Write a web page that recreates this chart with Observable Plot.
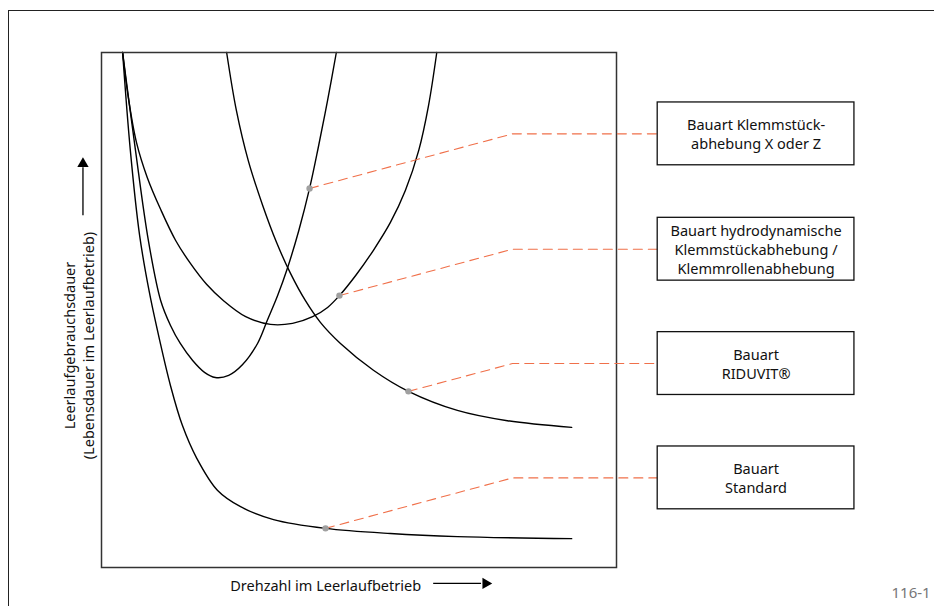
<!DOCTYPE html>
<html>
<head>
<meta charset="utf-8">
<script src="https://cdn.jsdelivr.net/npm/d3@7"></script>
<script src="https://cdn.jsdelivr.net/npm/@observablehq/plot@0.6"></script>
<style>
  body { margin: 0; background: #fff; }
  #wrap { position: relative; width: 934px; height: 606px; overflow: hidden; }
  #border { position: absolute; left: 8px; top: 10px; right: -4px; bottom: -4px;
            border-top: 1.5px solid #222; border-left: 1.5px solid #222; pointer-events: none; }
  svg { display: block; }
</style>
</head>
<body>
<div id="wrap"><div id="border"></div></div>
<script>
// ---- data (x = Drehzahl, y = Leerlaufgebrauchsdauer, arbitrary 0–100 units)
const seriesNames = ["Klemmstück", "Hydrodynamisch", "RIDUVIT", "Standard"];

const standardX = [4.1, 5.6, 7.4, 9.3, 11.3, 13.4, 15.7, 18.5, 22.5, 27.0, 33.4, 43.5, 56.1, 69.1, 91.3];
const standardY = [100, 81.0, 64.5, 53.4, 44.1, 35.3, 27.6, 21.2, 15.0, 11.8, 9.3, 7.6, 6.6, 6.0, 5.6];

const klemmX = [4.1, 6.6, 9.1, 11.5, 13.4, 15.3, 17.7, 20.0, 22.1, 24.7, 27.4, 30.3, 32.2, 34.2, 36.1, 38.3, 40.4, 42.1, 43.9, 45.6];
const klemmY = [100, 81.0, 63.5, 51.8, 47.0, 43.5, 40.2, 37.9, 36.9, 37.3, 39.4, 43.5, 48.0, 52.8, 58.1, 65.4, 73.6, 81.6, 90.7, 100];

const hydroX = [4.1, 5.2, 6.8, 8.9, 11.5, 14.4, 17.3, 20.4, 23.7, 28.0, 32.8, 37.1, 41.0, 43.9, 46.2, 49.5, 52.8, 56.1, 59.0, 61.6, 63.5, 65.1];
const hydroY = [100, 91.3, 82.5, 75.7, 69.5, 63.5, 59.0, 55.0, 51.8, 48.7, 47.2, 47.4, 48.7, 50.5, 52.8, 56.9, 61.6, 67.0, 73.2, 81.0, 89.7, 100];

const riduvitX = [24.3, 26.2, 28.5, 31.3, 34.0, 36.7, 39.6, 42.5, 46.4, 52.8, 59.6, 69.1, 78.8, 91.3];
const riduvitY = [100, 88.7, 79.0, 70.3, 63.1, 57.1, 51.8, 47.6, 43.5, 38.3, 34.2, 30.5, 28.5, 27.2];

// label boxes and leader lines
const labelTexts = [
  "Bauart Klemmstück-\nabhebung X oder Z",
  "Bauart hydrodynamische\nKlemmstückabhebung /\nKlemmrollenabhebung",
  "Bauart\nRIDUVIT®",
  "Bauart\nStandard"
];
const labelY  = [84.2, 61.8, 39.6, 17.4];   // centre of each box
const markerX = [40.4, 46.2, 59.6, 43.5];   // point on each curve
const markerY = [73.6, 52.8, 34.2, 7.6];
const kneeX = 79.8;
const boxLeft = 108.0, boxRight = 146.2, boxHeight = 12.2;

const xTitle = "Drehzahl im Leerlaufbetrieb";
const yTitle = "Leerlaufgebrauchsdauer\n(Lebensdauer im Leerlaufbetrieb)";
const figureId = "116-1";

// ---- build tables
const curveX = [klemmX, hydroX, riduvitX, standardX];
const curveY = [klemmY, hydroY, riduvitY, standardY];
const curves = curveX.flatMap((xs, i) => xs.map((x, j) => ({series: seriesNames[i], x, y: curveY[i][j]})));

const leaders = labelY.flatMap((ly, i) => [
  {i, x: markerX[i], y: markerY[i]},
  {i, x: kneeX, y: ly},
  {i, x: boxLeft, y: ly}
]);
const markers = markerX.map((x, i) => ({x, y: markerY[i]}));
const boxes = labelY.map((ly, i) => ({y1: ly - boxHeight / 2, y2: ly + boxHeight / 2, text: labelTexts[i], cy: ly}));

const font = "'Noto Sans', 'Open Sans', sans-serif";

const chart = Plot.plot({
  width: 934,
  height: 606,
  marginLeft: 101,
  marginRight: 318,
  marginTop: 52,
  marginBottom: 39,
  x: {domain: [0, 100], axis: null},
  y: {domain: [0, 100], axis: null},
  style: {fontFamily: font, background: "transparent", overflow: "visible"},
  marks: [
    Plot.line(curves, {x: "x", y: "y", z: "series", curve: "catmull-rom", stroke: "#000", strokeWidth: 1.4}),
    Plot.frame({stroke: "#333", strokeWidth: 1.5}),
    Plot.line(leaders, {x: "x", y: "y", z: "i", stroke: "#f0704a", strokeWidth: 1.1, strokeDasharray: "9,6"}),
    Plot.dot(markers, {x: "x", y: "y", r: 3.2, fill: "#a0a0a0", stroke: "none"}),
    Plot.rect(boxes, {x1: boxLeft, x2: boxRight, y1: "y1", y2: "y2", fill: "#fff", stroke: "#111", strokeWidth: 1.3}),
    Plot.text(boxes, {x: (boxLeft + boxRight) / 2, y: "cy", text: "text", fontSize: 14.5, lineHeight: 1.3, fill: "#111", textAnchor: "middle"}),
    // axis titles with arrows
    Plot.text([xTitle], {x: 25.0, y: -3.7, text: d => d, textAnchor: "start", fontSize: 14.5, fill: "#111"}),
    Plot.ruleY([-3.1], {x1: 64.5, x2: 73.8, stroke: "#000", strokeWidth: 1.3}),
    Plot.dot([0], {x: 74.6, y: -3.1, symbol: "triangle", r: 4.2, rotate: 90, fill: "#000", stroke: "none"}),
    Plot.text([yTitle], {x: -4.5, y: 43.1, text: d => d, rotate: -90, textAnchor: "middle", fontSize: 14.5, lineHeight: 1.35, fill: "#111"}),
    Plot.ruleX([-3.6], {y1: 68.3, y2: 77.6, stroke: "#000", strokeWidth: 1.3}),
    Plot.dot([0], {x: -3.6, y: 78.4, symbol: "triangle", r: 4.2, fill: "#000", stroke: "none"}),
    Plot.text([figureId], {x: 161.0, y: -5.0, text: d => d, textAnchor: "end", fontSize: 15, fill: "#777"})
  ]
});
document.getElementById("wrap").prepend(chart);
</script>
</body>
</html>
